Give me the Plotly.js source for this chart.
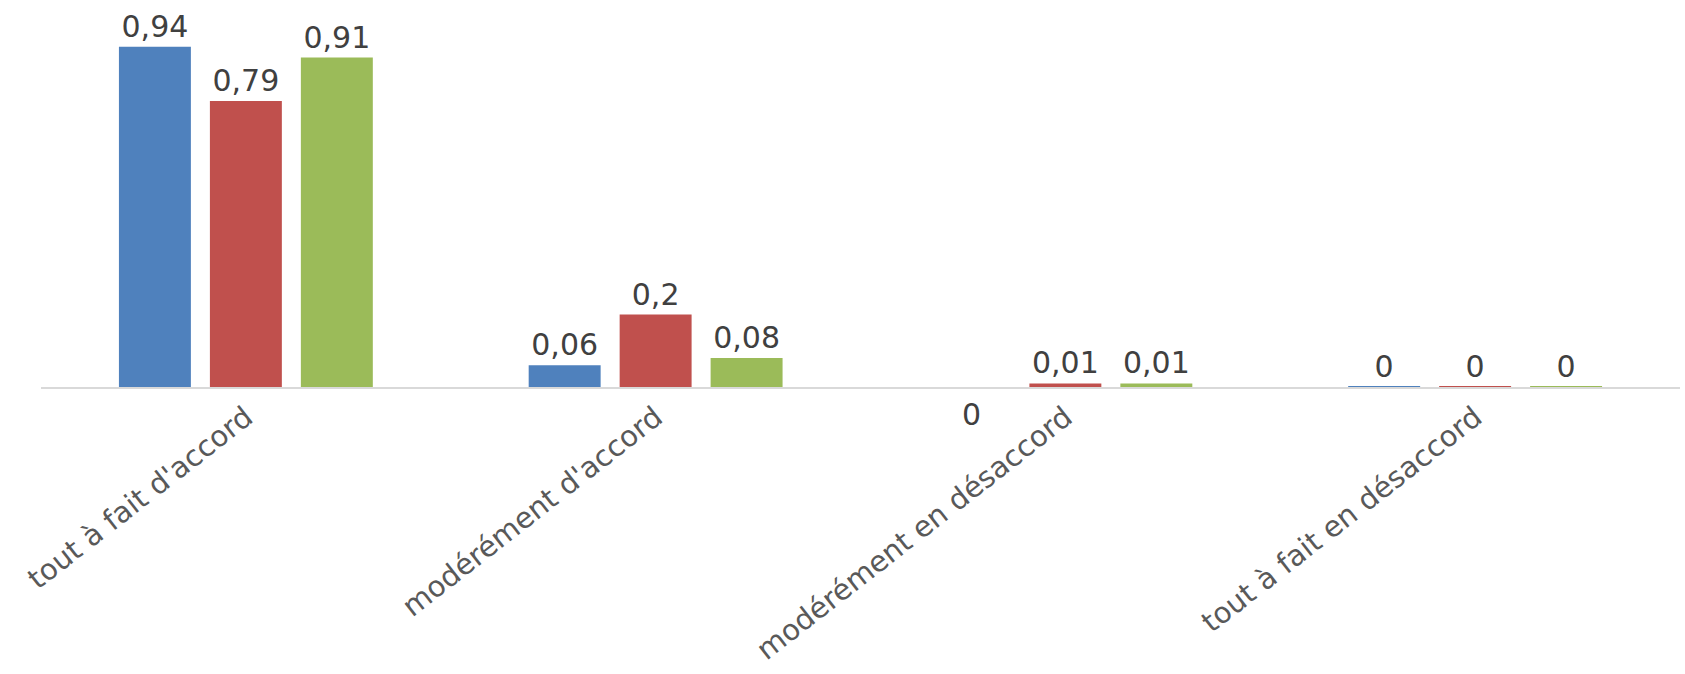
<!DOCTYPE html>
<html>
<head>
<meta charset="utf-8">
<script src="https://cdn.plot.ly/plotly-3.0.1.min.js"></script>
<style>html,body{margin:0;padding:0;background:#fff;}#chart{width:1685px;height:674px;}</style>
</head>
<body>
<div id="chart"></div>
<script>
const categories = ["tout à fait d'accord", "modérément d'accord", "modérément en désaccord", "tout à fait en désaccord"];
const seriesA = [0.94, 0.06, 0, 0];
const seriesB = [0.79, 0.2, 0.01, 0];
const seriesC = [0.91, 0.08, 0.01, 0];
const colors = ["#4F81BD", "#C0504D", "#9BBB59"];

function fmt(v) { return String(v).replace('.', ','); }

const labelFont = {family: "DejaVu Sans", size: 30, color: "#404040"};

function makeTrace(vals, color, hideIdx) {
  return {
    type: 'bar',
    x: categories,
    y: vals,
    text: vals.map((v, i) => i === hideIdx ? '' : fmt(v)),
    textposition: 'outside',
    textfont: labelFont,
    cliponaxis: false,
    marker: {color: color, line: {color: color, width: vals.map((v, i) => (v === 0 && i !== hideIdx) ? 2 : 0)}},
    hoverinfo: 'none'
  };
}

const data = [
  makeTrace(seriesA, colors[0], 2),
  makeTrace(seriesB, colors[1], -1),
  makeTrace(seriesC, colors[2], -1)
];

const layout = {
  width: 1685, height: 674,
  margin: {l: 41, r: 5, t: 25, b: 287},
  paper_bgcolor: '#fff', plot_bgcolor: '#fff',
  showlegend: false,
  barmode: 'group',
  bargap: 0.334,
  bargroupgap: 0.209,
  font: {family: "DejaVu Sans"},
  xaxis: {
    showline: true, linecolor: '#d9d9d9', linewidth: 2,
    ticks: '', tickangle: -38,
    tickfont: {family: "DejaVu Sans", size: 29, color: '#595959'},
    showgrid: false, zeroline: false
  },
  yaxis: {
    range: [0, 1], visible: false, showgrid: false, zeroline: false
  },
  annotations: [{
    x: categories[2], y: seriesA[2], xref: 'x', yref: 'y',
    xshift: -94, yanchor: 'top', yshift: -8,
    text: fmt(seriesA[2]), showarrow: false, font: labelFont
  }]
};

Plotly.newPlot('chart', data, layout, {displayModeBar: false, staticPlot: true});
</script>
</body>
</html>
